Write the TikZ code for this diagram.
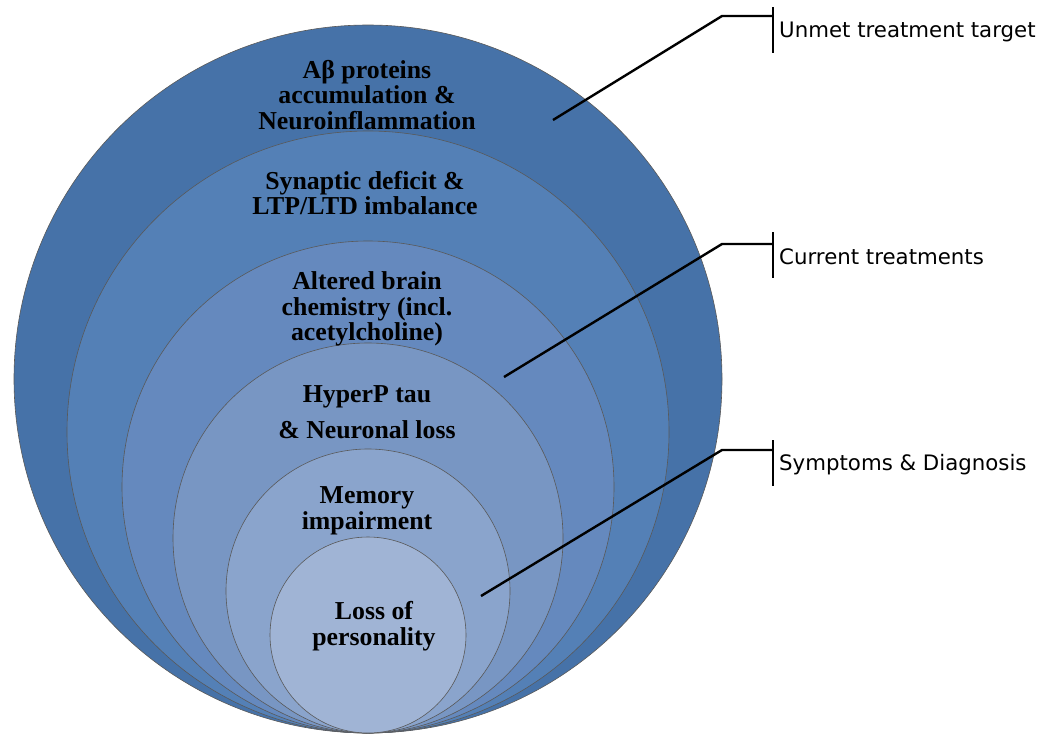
\documentclass[tikz,border=0pt]{standalone}
\usepackage{fontspec}
\setmainfont{Liberation Serif}
\newfontfamily\calloutfont{DejaVu Sans}
\usepackage{tikz}

\definecolor{layerA}{RGB}{70,114,168}
\definecolor{layerB}{RGB}{84,128,182}
\definecolor{layerC}{RGB}{101,137,190}
\definecolor{layerD}{RGB}{120,150,195}
\definecolor{layerE}{RGB}{138,164,204}
\definecolor{layerF}{RGB}{160,180,213}

\begin{document}
\begin{tikzpicture}[x=1pt,y=-1pt,
	layer/.style={draw=black!65,line width=0.6pt},
	stage/.style={align=center,inner sep=0pt,font=\bfseries\fontsize{25.8}{25.5}\selectfont},
	callout/.style={anchor=west,inner sep=0pt,font=\calloutfont\fontsize{21.3}{24}\selectfont},
	leader/.style={line width=2.4pt},
	bar/.style={line width=2.8pt}]
	% page frame, same size as the reference
	\useasboundingbox (0,0) rectangle (1046,736);
	% the nested layers - biggest first, all touching at the bottom
	\foreach \r/\c in {354/layerA, 301/layerB, 246/layerC, 195/layerD, 142/layerE, 98/layerF} {
		\filldraw[layer,fill=\c] (368,{733-\r}) circle (\r);
	}
	% labels of the layers
	\node[stage] (abeta) at (367,95) {Aβ proteins\\accumulation \&\\Neuroinflammation};
	\node[stage] (synapse) at (365,193) {Synaptic deficit \&\\LTP/LTD imbalance};
	\node[stage] (chem) at (367,309) {Altered brain\\chemistry (incl.\\acetylcholine)};
	\node[stage] (tau) at (367,412) {HyperP tau\\[11pt]\& Neuronal loss};
	\node[stage] (memory) at (367,511) {Memory\\impairment};
	\node[stage] (person) at (374,626) {Loss of\\personality};
	% the callouts on the right
	\node[callout] (unmet) at (779,32) {Unmet treatment target};
	\node[callout] (current) at (779,257) {Current treatments};
	\node[callout] (symptoms) at (779,465) {Symptoms \& Diagnosis};
	\coordinate (tipA) at (553,120);
	\coordinate (tipB) at (504,377);
	\coordinate (tipC) at (481,596);
	\foreach \t/\l/\k in {tipA/unmet/16, tipB/current/244, tipC/symptoms/450} {
		\draw[leader] (\t) -- (722,\k) -- ([xshift=-6pt]\l.west |- 0,\k);
		\draw[bar] ([xshift=-6pt]\l.west) ++(0,-25) -- ++(0,46);
	}
\end{tikzpicture}
\end{document}
